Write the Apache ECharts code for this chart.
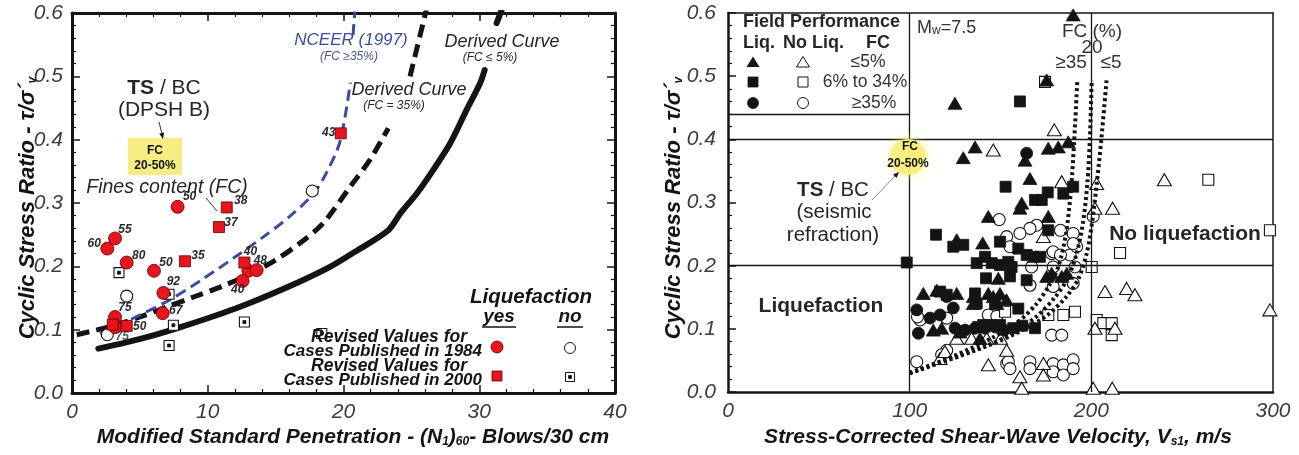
<!DOCTYPE html>
<html>
<head>
<meta charset="utf-8">
<title>Cyclic stress ratio: SPT and shear-wave velocity case histories</title>
<script src="https://cdn.jsdelivr.net/npm/echarts@6/dist/echarts.min.js"></script>
<style>
  html, body { margin: 0; padding: 0; background: #fff; }
  #chart { width: 1299px; height: 455px; }
</style>
</head>
<body>
<div id="chart"></div>
<script>
// ===== Left panel: modified SPT blow count (N1)60 vs cyclic stress ratio =====
// Liquefied sites, revised values for cases published in 1984 (red circles)
const sptLiq1984 = [[2.6,0.228],[3.17,0.244],[4.03,0.206],[6.04,0.193],[6.73,0.158],[6.68,0.126],
  [7.78,0.294],[3.17,0.12],[3.17,0.104],[12.99,0.193],[13.6,0.194],[12.57,0.177]];
const sptLiq1984FC = ['60','55','80','50','92','67','50','75','','48','','40'];
// Liquefied sites, revised values for cases published in 2000 (red squares)
const sptLiq2000 = [[11.4,0.293],[10.83,0.262],[8.32,0.208],[12.7,0.206],[19.8,0.41],[4.03,0.106],[3.0,0.108]];
const sptLiq2000FC = ['38','37','35','40','43','50',''];
// Non-liquefied sites
const sptNo1984 = [[4.03,0.153],[2.6,0.092],[17.7,0.319]];
const sptNo1984FC = ['','75',''];
const sptNo2000 = [[3.46,0.19],[7.15,0.156],[7.47,0.107],[7.15,0.075],[12.7,0.112],[18.4,0.094]];

// Boundary curves (each split where its caption sits)
const curveClean = [[1.94,0.07],[4,0.08],[6,0.091],[8,0.104],[10,0.118],[12,0.133],[14,0.15],[16.8,0.176],
  [19,0.199],[21,0.225],[23.3,0.257],[24.2,0.284],[25.4,0.315],[26.6,0.352],[27.85,0.394],[29.07,0.447],[30.06,0.489],[30.4,0.51]];
const curveCleanTop = [[31.28,0.584],[31.65,0.605]];
const curveFC35 = [[0.35,0.092],[3,0.106],[5,0.12],[7,0.136],[9,0.152],[11,0.168],[13,0.187],[15,0.21],
  [17,0.24],[18.5,0.268],[20.5,0.326],[22,0.37],[23.3,0.418]];
const curveFC35Top = [[24.9,0.5],[26.1,0.605]];
const curveNceer = [[2.06,0.094],[4.5,0.118],[7.2,0.147],[9.5,0.178],[11.9,0.213],[14,0.245],[16,0.278],
  [17.8,0.315],[18.8,0.35],[19.7,0.394],[20.2,0.447],[20.5,0.49]];
const curveNceerTop = [[20.7,0.565],[20.85,0.605]];

// ===== Right panel: stress-corrected shear-wave velocity Vs1 vs cyclic stress ratio =====
const vsLiqTriangle = [[124.9,0.457],[136,0.388],[129.5,0.371],[190,0.597],[175.4,0.494],[176.3,0.386],[181.8,0.388],
  [187.3,0.396],[163.5,0.367],[166.2,0.338],[161.7,0.299],[160.7,0.291],[143.3,0.278],[176.3,0.278],[125.9,0.241],
  [140.2,0.236],[107.5,0.156],[114.9,0.161],[125.9,0.156],[135,0.151],[135,0.14],[143.3,0.156],[146,0.151],[148,0.14],
  [113,0.098],[117.6,0.101],[127.7,0.095],[138.7,0.085],[149.7,0.156],[153.3,0.146],[175.4,0.183],[178.2,0.188],
  [183.7,0.183],[186.5,0.188],[148.8,0.18]];
const vsLiqSquare = [[160.7,0.46],[152.8,0.325],[176,0.316],[184.6,0.314],[190,0.325],[169,0.304],[172.7,0.304],
  [114.5,0.249],[129.5,0.233],[124,0.23],[149.7,0.238],[176.3,0.256],[98.4,0.205],[136.9,0.204],[141.5,0.214],
  [145.2,0.204],[149.7,0.201],[142,0.18],[116.7,0.159],[120.4,0.154],[136,0.156],[136.9,0.14],[147,0.14],
  [159.8,0.227],[164.4,0.217],[168.1,0.214],[171.7,0.214],[154.3,0.206],[156.1,0.198],[155.2,0.183],[164.4,0.177],
  [159.8,0.132],[169,0.101],[137.8,0.103],[140.5,0.106],[145.2,0.106],[149.7,0.106],[157,0.101],[162,0.105]];
const vsLiqCircle = [[164.4,0.378],[103.9,0.13],[111.2,0.117],[116.7,0.122],[124,0.133],[104.8,0.093],[125,0.101],
  [130.5,0.098],[136,0.101],[141.5,0.101],[147,0.103],[120.4,0.151],[152,0.098]];
const vsNoTriangle = [[146,0.383],[179.6,0.415],[183.7,0.333],[202.9,0.33],[240.2,0.336],[202,0.291],[211.7,0.291],
  [173.6,0.246],[207.5,0.159],[219.4,0.164],[224,0.154],[298.3,0.13],[202,0.101],[213,0.101],[201,0.006],[211.5,0.006],
  [160.7,0.024],[161.7,0.006],[143.3,0.043],[125.9,0.085],[134.1,0.085],[142.4,0.085],[116.7,0.053],[119.4,0.064],
  [173.6,0.045],[173.6,0.027],[153.4,0.066],[150,0.085]];
const vsNoSquare = [[174.5,0.491],[264.4,0.336],[298.3,0.256],[215.8,0.22],[200.2,0.198],[203,0.114],[206.6,0.109],
  [211.2,0.109],[211.2,0.09],[152.5,0.127],[176.3,0.122],[184.6,0.122],[191,0.127]];
const vsNoCircle = [[149.3,0.273],[153.4,0.246],[201,0.278],[155.2,0.23],[178.2,0.219],[188.3,0.217],[191.9,0.23],
  [191,0.198],[167.1,0.198],[166.2,0.169],[190,0.172],[179,0.167],[178.2,0.09],[183.7,0.09],[143.3,0.122],[105.7,0.114],
  [120.4,0.117],[104.3,0.119],[120.4,0.066],[117.6,0.059],[103.9,0.048],[153.4,0.045],[154.3,0.048],[155.2,0.037],
  [166.2,0.048],[166.2,0.037],[179,0.045],[179,0.032],[184.6,0.043],[184.6,0.027],[190,0.051],[190,0.037],
  [169.9,0.264],[166.2,0.259],[160.7,0.251],[183,0.256],[190,0.251],[190,0.235],[179,0.222],[179,0.198],[183,0.217],[148,0.12]];

// Boundary curves for fines content >=35 %, 20 % and <=5 %
const vsCurveFC35 = [[100,0.03],[125,0.058],[145,0.085],[160,0.112],[170,0.14],[177,0.17],[182,0.2],[186,0.25],[188.8,0.32],[190.6,0.4],[192.3,0.494]];
const vsCurveFC20 = [[100,0.03],[135,0.065],[155,0.09],[170,0.12],[180,0.15],[187,0.18],[192,0.22],[195.5,0.27],[197.8,0.33],[199.2,0.4],[200.2,0.494]];
const vsCurveFC5  = [[100,0.03],[140,0.07],[160,0.095],[175,0.12],[186,0.15],[193,0.18],[197.5,0.22],[200.5,0.27],[203,0.33],[205.5,0.4],[208.4,0.494]];
// Region boundaries on the Vs1 panel
const vsBounds = [100, 200];
const csrBounds = [0.2, 0.4];
const legendBoxCsr = 0.44;

// ---------------------------------------------------------------------------
const FONT = '"Liberation Sans", Arial, sans-serif';
const INK = '#141414';
const RED = '#e8141e';

// Label shifts (label centre relative to the marker, px) for the fines-content tags
const tagShift1984 = [[-13,-5],[10,-9],[12,-7],[12,-8],[10,-11],[13,-3],[12,-10],[10,-9],[0,0],[12,-10],[0,0],[-5,9]];
const tagShift2000 = [[14,-7],[12,-4],[13,-6],[6,-11],[-12,-1],[13,1],[0,0]];
const tagShiftNo1984 = [[0,0],[15,2],[0,0]];

function tagged(points, tags, shifts, color) {
  return points.map((p, i) => ({
    value: p,
    label: {
      show: !!tags[i], formatter: tags[i], position: 'inside', offset: shifts[i],
      fontFamily: FONT, fontStyle: 'italic', fontWeight: 'bold', fontSize: 12, color: color || '#2a2a2a'
    }
  }));
}

const chart = echarts.init(document.getElementById('chart'));

const tickLabel = { fontFamily: FONT, fontStyle: 'italic', fontSize: 21, color: '#3c3c3c' };

function frameAxis(gridIndex, pos, min, max, interval, opts) {
  return Object.assign({
    type: 'value', gridIndex, position: pos, min, max, interval,
    axisLine: { show: true, onZero: false, lineStyle: { color: INK, width: 3 } },
    axisTick: { show: true, inside: true, length: 8, lineStyle: { color: INK, width: 1.5 } },
    minorTick: { show: true, splitNumber: 5, length: 4, lineStyle: { color: INK, width: 1.2 } },
    axisLabel: { show: false },
    splitLine: { show: false }
  }, opts || {});
}

const xAxes = [
  frameAxis(0, 'bottom', 0, 40, 10, { axisLabel: Object.assign({ show: true, margin: 9 }, tickLabel) }),
  frameAxis(0, 'top', 0, 40, 10),
  frameAxis(1, 'bottom', 0, 300, 100, {
    axisLine: { show: true, onZero: false, lineStyle: { color: INK, width: 2.5 } },
    axisTick: { show: false }, minorTick: { show: false },
    axisLabel: Object.assign({ show: true, margin: 9 }, tickLabel)
  }),
  frameAxis(1, 'top', 0, 300, 100, {
    axisLine: { show: true, onZero: false, lineStyle: { color: INK, width: 1.5 } },
    axisTick: { show: false }, minorTick: { show: false }
  })
];
const yAxes = [
  frameAxis(0, 'left', 0, 0.6, 0.1, { axisLabel: Object.assign({ show: true, margin: 9, formatter: v => v.toFixed(1) }, tickLabel) }),
  frameAxis(0, 'right', 0, 0.6, 0.1),
  frameAxis(1, 'left', 0, 0.6, 0.1, {
    axisLine: { show: true, onZero: false, lineStyle: { color: INK, width: 2.5 } },
    axisLabel: Object.assign({ show: true, margin: 12, formatter: v => v.toFixed(1) }, tickLabel)
  }),
  frameAxis(1, 'right', 0, 0.6, 0.1, {
    axisLine: { show: true, onZero: false, lineStyle: { color: INK, width: 1.5 } },
    axisTick: { show: false }, minorTick: { show: false }
  })
];

function curve(data, xi, yi, style) {
  return { type: 'line', xAxisIndex: xi, yAxisIndex: yi, data, smooth: 0.3, showSymbol: false, symbol: 'none',
    silent: true, z: 3, lineStyle: style };
}
function dots(data, xi, yi, symbol, size, filled, color, z) {
  return { type: 'scatter', xAxisIndex: xi, yAxisIndex: yi, data, symbol, symbolSize: size, z: z || 4, silent: true,
    itemStyle: filled ? { color: color || INK, borderColor: color === RED ? '#5a0000' : INK, borderWidth: 0.8, opacity: 1 }
                      : { color: '#fff', borderColor: INK, borderWidth: 1.1, opacity: 1 } };
}

const solidStyle = { color: INK, width: 6, type: 'solid', cap: 'round' };
const dashStyle = { color: INK, width: 5, type: [13, 7] };
const blueStyle = { color: '#3b4c9e', width: 3, type: [11, 6] };
const dotStyle = { color: INK, width: 4, type: [3, 3], cap: 'butt' };

const series = [
  // left panel curves
  curve(curveClean, 0, 0, solidStyle), curve(curveCleanTop, 0, 0, solidStyle),
  curve(curveFC35, 0, 0, dashStyle), curve(curveFC35Top, 0, 0, dashStyle),
  curve(curveNceer, 0, 0, blueStyle), curve(curveNceerTop, 0, 0, blueStyle),
  // left panel case histories
  dots(tagged(sptNo1984, sptNo1984FC, tagShiftNo1984, '#555'), 0, 0, 'circle', 12, false),
  dots(sptNo2000, 0, 0, 'rect', 10, false),
  dots(sptNo2000, 0, 0, 'rect', 3, true),
  dots(tagged(sptLiq1984, sptLiq1984FC, tagShift1984), 0, 0, 'circle', 13, true, RED, 5),
  dots(tagged(sptLiq2000, sptLiq2000FC, tagShift2000), 0, 0, 'rect', 11, true, RED, 5),
  // right panel region boundaries
  { type: 'line', xAxisIndex: 2, yAxisIndex: 2, data: [], silent: true,
    markLine: { silent: true, symbol: 'none', label: { show: false }, animation: false,
      lineStyle: { color: INK, width: 1.3, type: 'solid' },
      data: vsBounds.map(v => ({ xAxis: v })).concat(csrBounds.map(v => ({ yAxis: v })))
        .concat([[{ coord: [0, legendBoxCsr] }, { coord: [vsBounds[0], legendBoxCsr] }]]) } },
  // right panel case histories
  dots(vsNoCircle, 2, 2, 'circle', 12, false),
  dots(vsNoSquare, 2, 2, 'rect', 11, false),
  dots(vsNoTriangle, 2, 2, 'triangle', [14, 12], false),
  dots(vsLiqCircle, 2, 2, 'circle', 12, true),
  dots(vsLiqSquare, 2, 2, 'rect', 11, true),
  dots(vsLiqTriangle, 2, 2, 'triangle', [14, 12], true),
  // right panel boundary curves
  Object.assign(curve(vsCurveFC35, 2, 2, dotStyle), { z: 6 }),
  Object.assign(curve(vsCurveFC20, 2, 2, dotStyle), { z: 6 }),
  Object.assign(curve(vsCurveFC5, 2, 2, dotStyle), { z: 6 })
];

// ---------- annotations ----------
function txt(x, y, text, font, fill, align, extra) {
  return Object.assign({ type: 'text', x, y, z: 20, silent: true,
    style: { text, font: font + ' ' + FONT, fill: fill || INK, align: align || 'center', verticalAlign: 'middle' } }, extra || {});
}
function seg(x1, y1, x2, y2, stroke, w) {
  return { type: 'line', z: 20, silent: true, shape: { x1, y1, x2, y2 }, style: { stroke: stroke || INK, lineWidth: w || 1 } };
}
function arrowHead(x, y, angle, len, wid) {
  const c = Math.cos(angle), s = Math.sin(angle);
  const bx = x - c * len, by = y - s * len;
  return { type: 'polygon', z: 21, silent: true,
    shape: { points: [[x, y], [bx - s * wid, by + c * wid], [bx + s * wid, by - c * wid]] }, style: { fill: INK } };
}
function tri(cx, cy, filled) {
  return { type: 'polygon', z: 20, silent: true, shape: { points: [[cx, cy - 5.5], [cx + 6.5, cy + 5], [cx - 6.5, cy + 5]] },
    style: filled ? { fill: INK } : { fill: '#fff', stroke: INK, lineWidth: 1 } };
}
function box(cx, cy, s, filled, color) {
  return { type: 'rect', z: 20, silent: true, shape: { x: cx - s / 2, y: cy - s / 2, width: s, height: s },
    style: filled ? { fill: color || INK, stroke: color === RED ? '#5a0000' : INK, lineWidth: 0.8 } : { fill: '#fff', stroke: INK, lineWidth: 1 } };
}
function disc(cx, cy, r, filled, color) {
  return { type: 'circle', z: 20, silent: true, shape: { cx, cy, r },
    style: filled ? { fill: color || INK, stroke: color === RED ? '#5a0000' : INK, lineWidth: 0.8 } : { fill: '#fff', stroke: INK, lineWidth: 1 } };
}

function nameRich(size) {
  return {
    a: { fontFamily: FONT, fontStyle: 'italic', fontWeight: 'bold', fontSize: size, fill: INK, color: INK },
    s: { fontFamily: FONT, fontStyle: 'italic', fontWeight: 'bold', fontSize: Math.round(size * 0.55), fill: INK, color: INK,
         verticalAlign: 'bottom', padding: [Math.round(size * 0.45), 0, 0, 0] }
  };
}
function richTxt(x, y, text, rich, rotation) {
  return { type: 'text', x, y, z: 20, silent: true, rotation: rotation || 0,
    style: { text, rich, align: 'center', verticalAlign: 'middle', font: 'bold italic 20px ' + FONT, fill: INK } };
}
function tsbc(x, y, size) {
  return { type: 'text', x, y, z: 20, silent: true, style: { text: '{b|TS} / BC', align: 'center', verticalAlign: 'middle',
    font: size + 'px ' + FONT, fill: '#262626',
    rich: { b: { fontFamily: FONT, fontWeight: 'bold', fontSize: size, fill: '#262626' } } } };
}

const graphics = [
  // axis titles
  richTxt(28, 208, '{a|Cyclic Stress Ratio - τ/σ´}{s|v}', nameRich(22), Math.PI / 2),
  richTxt(674, 208, '{a|Cyclic Stress Ratio - τ/σ´}{s|v}', nameRich(22), Math.PI / 2),
  richTxt(353, 437, '{a|Modified Standard Penetration - (N}{s|1}{a|)}{s|60}{a|- Blows/30 cm}', nameRich(21)),
  richTxt(998, 437, '{a|Stress-Corrected Shear-Wave Velocity, V}{s|s1}{a|, m/s}', nameRich(21)),

  // left panel captions
  txt(351, 40, 'NCEER (1997)', 'italic 17px', '#3b4c9e'),
  txt(349, 57, '(FC ≥35%)', 'italic 12px', '#4a5590'),
  txt(502, 42, 'Derived Curve', 'italic 18px', '#262626'),
  txt(490, 58, '(FC ≤ 5%)', 'italic 12px', '#262626'),
  txt(409, 90, 'Derived Curve', 'italic 18px', '#262626'),
  txt(394, 106, '(FC = 35%)', 'italic 12px', '#262626'),
  tsbc(164, 88, 21),
  txt(164, 110, '(DPSH B)', '21px', '#262626'),
  seg(159, 122, 162.5, 136, '#333', 1),
  arrowHead(163, 139, Math.atan2(18, 4), 6, 2.5),
  { type: 'rect', z: 19, silent: true, shape: { x: 128, y: 138, width: 54, height: 37 }, style: { fill: '#f6ec84' } },
  txt(155, 151, 'FC', 'bold 12px', INK),
  txt(155, 166, '20-50%', 'bold 12px', INK),
  txt(167, 188, 'Fines content (FC)', 'italic 19.5px', '#262626'),
  seg(206, 198, 217, 211, '#333', 1),

  // left panel legend
  txt(531, 297, 'Liquefaction', 'italic bold 20.5px', INK),
  txt(499, 317, 'yes', 'italic bold 19px', INK),
  txt(570, 317, 'no', 'italic bold 19px', INK),
  seg(482, 327, 516, 327, INK, 1.5),
  seg(557, 327, 583, 327, INK, 1.5),
  txt(467, 337, 'Revised Values for', 'italic bold 17.5px', INK, 'right'),
  txt(482, 351, 'Cases Published in 1984', 'italic bold 17px', INK, 'right'),
  txt(467, 366, 'Revised Values for', 'italic bold 17.5px', INK, 'right'),
  txt(482, 380, 'Cases Published in 2000', 'italic bold 17px', INK, 'right'),
  disc(497, 347, 6, true, RED),
  disc(570, 348, 5.5, false),
  box(497, 376, 10, true, RED),
  box(570, 377, 9, false),
  box(570, 377, 3, true),

  // right panel legend
  txt(743, 22, 'Field Performance', 'bold 18px', '#262626', 'left'),
  txt(743, 43, 'Liq.', 'bold 18px', '#262626', 'left'),
  txt(783, 43, 'No Liq.', 'bold 18px', '#262626', 'left'),
  txt(866, 43, 'FC', 'bold 18px', '#262626', 'left'),
  tri(753, 62, true), tri(803, 62, false),
  box(753, 82, 10, true), box(803, 82, 10, false),
  disc(753, 103, 5.5, true), disc(803, 103, 5.5, false),
  txt(868, 62, '≤5%', '17.5px', '#333'),
  txt(865, 82, '6% to 34%', '17.5px', '#333'),
  txt(874, 103, '≥35%', '17.5px', '#333'),
  { type: 'text', x: 917, y: 28, z: 20, silent: true, style: { text: '{m|M}{w|w}{m|=7.5}', align: 'left', verticalAlign: 'middle',
      font: '18px ' + FONT, fill: '#333',
      rich: { m: { fontFamily: FONT, fontSize: 18, fill: '#333' }, w: { fontFamily: FONT, fontSize: 12, fill: '#333', verticalAlign: 'bottom', padding: [5, 0, 0, 0] } } } },
  txt(1092, 32, 'FC (%)', '19px', '#333'),
  txt(1092, 48, '20', '19px', '#333'),
  txt(1071, 63, '≥35', '19px', '#333'),
  txt(1111, 63, '≤5', '19px', '#333'),
  tsbc(833, 190, 20.5),
  txt(834, 212, '(seismic', '20.5px', '#262626'),
  txt(833, 235, 'refraction)', '20.5px', '#262626'),
  { type: 'circle', z: 18, silent: true, shape: { cx: 908, cy: 157, r: 18 },
    style: { fill: 'rgba(248,238,120,0.85)', shadowBlur: 10, shadowColor: 'rgba(248,238,120,0.9)' } },
  txt(910, 147, 'FC', 'bold 12px', INK),
  txt(908, 164, '20-50%', 'bold 12px', INK),
  seg(872, 200, 896, 175, '#888', 1),
  arrowHead(899, 172, Math.atan2(-28, 27), 6, 2.5),
  txt(1185, 234, 'No liquefaction', 'bold 21px', '#262626'),
  txt(821, 306, 'Liquefaction', 'bold 21px', '#262626')
];

chart.setOption({
  animation: false,
  backgroundColor: '#fff',
  grid: [
    { left: 72, top: 13, width: 543, height: 380 },
    { left: 728, top: 13, width: 545, height: 379 }
  ],
  xAxis: xAxes,
  yAxis: yAxes,
  series,
  graphic: graphics
});
</script>
</body>
</html>
